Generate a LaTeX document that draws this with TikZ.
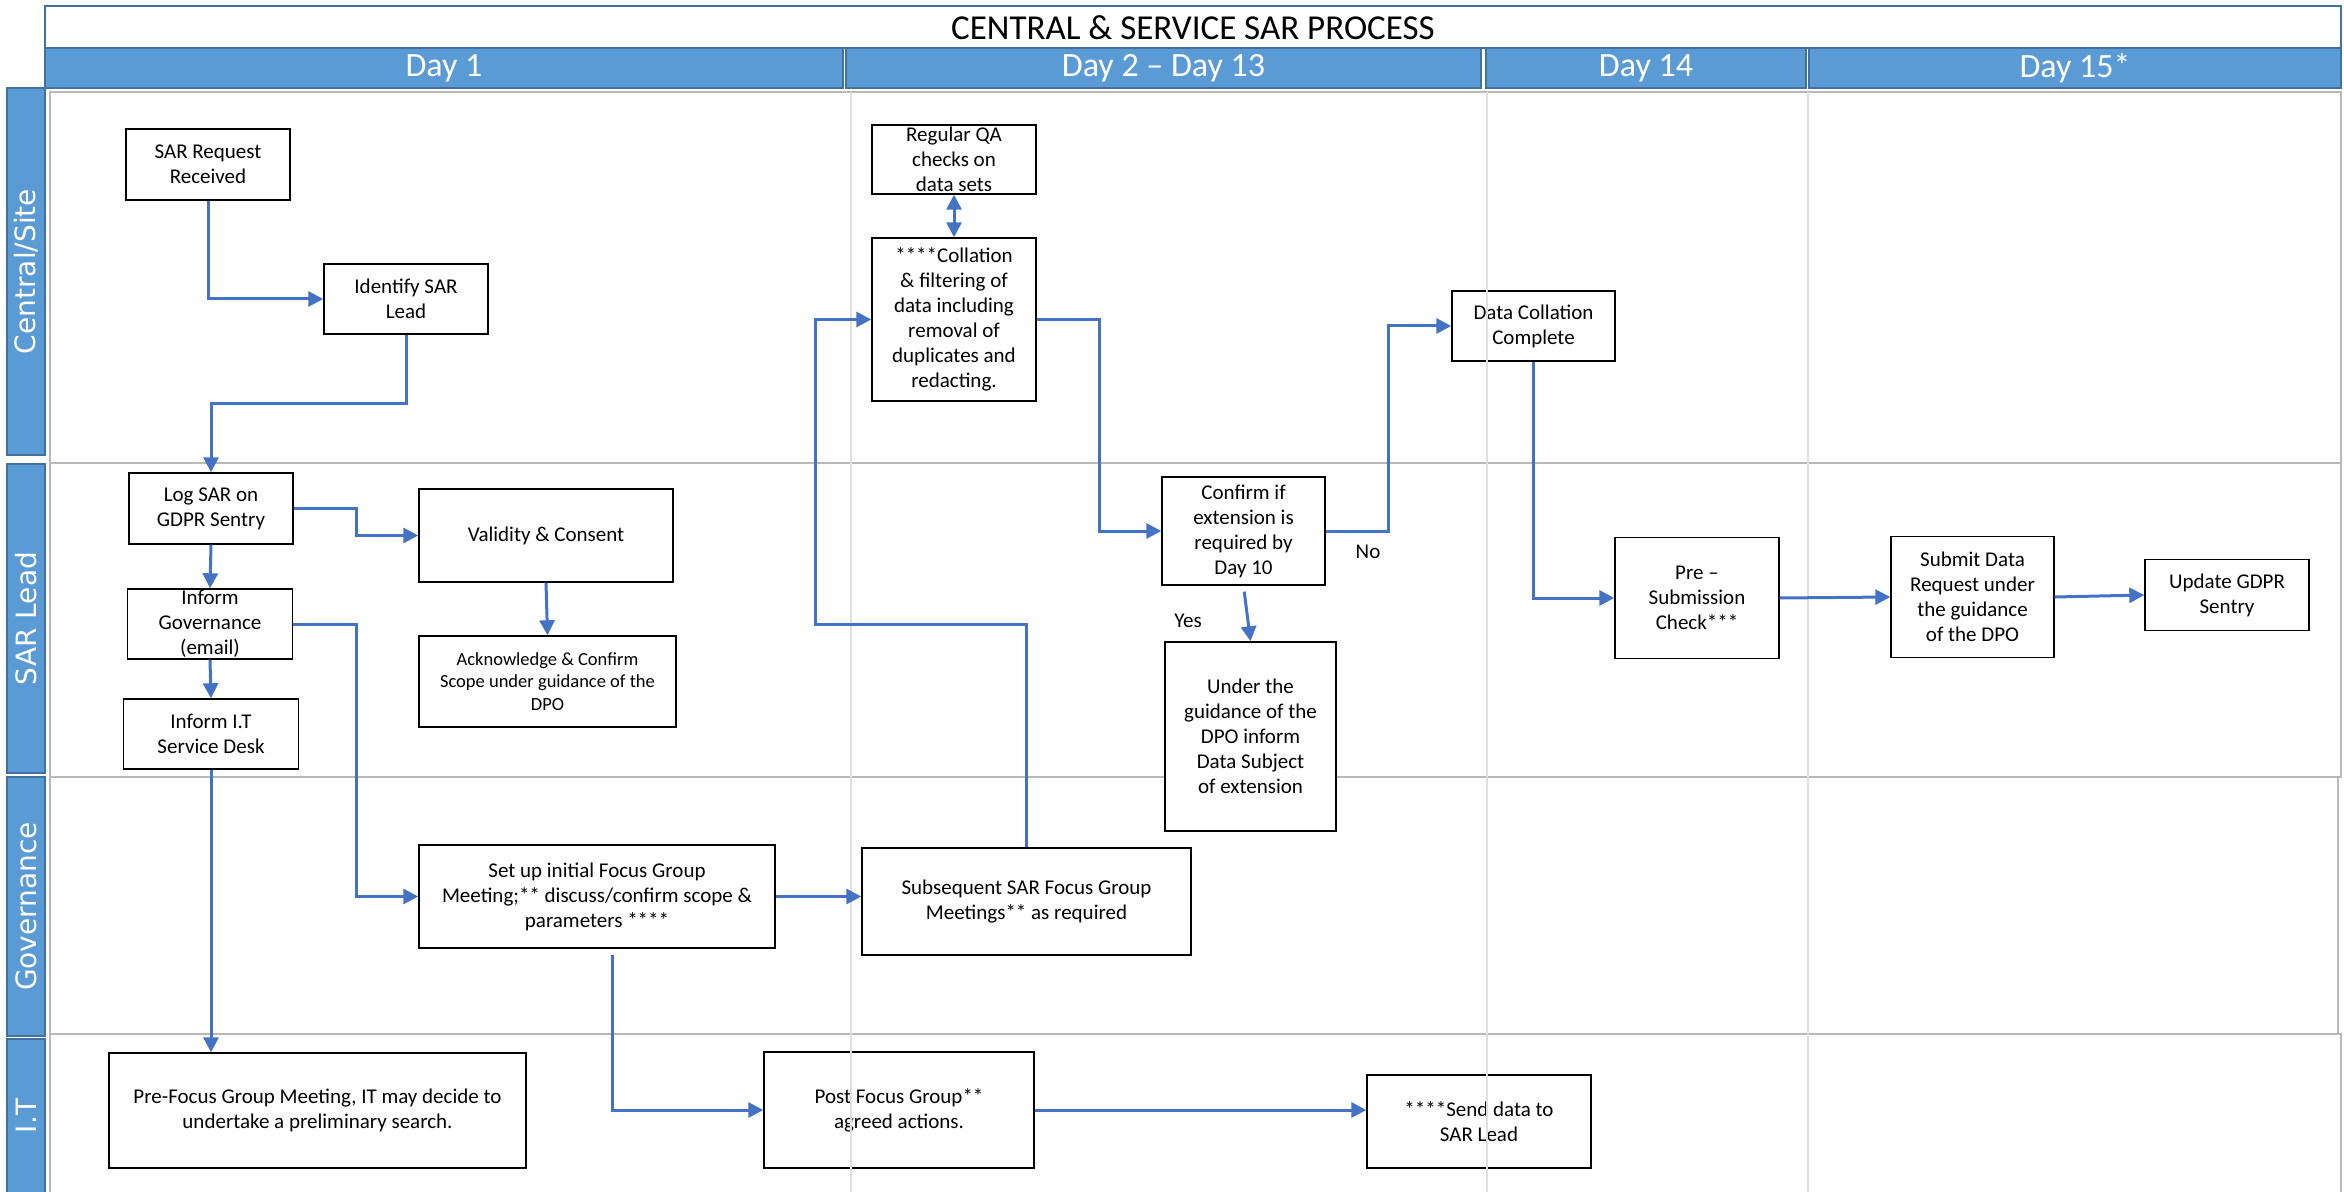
\documentclass[tikz,border=0pt]{standalone}
\usepackage{fontspec}
\setmainfont{Carlito}
\newfontfamily\lanefont{DejaVu Sans}
\usetikzlibrary{arrows.meta}
\definecolor{headblue}{RGB}{91,155,213}
\definecolor{headedge}{RGB}{65,113,156}
\definecolor{flowblue}{RGB}{68,114,196}

\begin{document}
\begin{tikzpicture}[x=0.5pt,y=-0.5pt,>={Triangle[length=7.5pt,width=7.5pt]},
  box/.style={draw=black,line width=0.7pt,fill=white,inner sep=0pt,align=center,
    font=\fontsize{10.5}{12.5}\selectfont},
  flow/.style={draw=flowblue,line width=1.5pt,->},
  dayhead/.style={fill=headblue,draw=headedge,line width=0.8pt,text=white,inner sep=0pt,
    minimum height=20pt,font=\fontsize{17}{20}\selectfont},
  lanebar/.style={fill=headblue,draw=headedge,line width=0.8pt},
  lanetext/.style={text=white,rotate=90,font=\lanefont\fontsize{14}{16}\selectfont},
  lanebox/.style={draw=gray!55,line width=1.2pt},
  colline/.style={draw=gray!25,line width=0.8pt}]
  \useasboundingbox (0,0) rectangle (2344,1192);

  % title and day columns
  \draw[headedge,line width=0.8pt] (45,6) rectangle (2341,48);
  \node[font=\fontsize{17.5}{21}\selectfont] (title) at (1193,28) {CENTRAL \& SERVICE SAR PROCESS};
  \node[dayhead,minimum width=399pt] (day1) at (444,68) {Day 1};
  \node[dayhead,minimum width=317.5pt] (day2) at (1163.5,68) {Day 2 – Day 13};
  \node[dayhead,minimum width=160pt] (day14) at (1646,68) {Day 14};
  \node[dayhead,minimum width=266pt] (day15) at (2075,68) {Day 15*};

  % swim lanes
  \draw[lanebox] (50,92) rectangle (2341,463);
  \draw[lanebox] (50,463) rectangle (2341,777);
  \draw[lanebox] (50,777) rectangle (2338,1034);
  \draw[lanebox] (50,1034) rectangle (2341,1210);
  \draw[lanebar] (7,88) rectangle (45,455);
  \draw[lanebar] (7,464) rectangle (45,773);
  \draw[lanebar] (7,777) rectangle (45,1036);
  \draw[lanebar] (7,1039) rectangle (45,1210);
  \node[lanetext] (lsite) at (26,271.5) {Central/Site};
  \node[lanetext] (llead) at (26,618.5) {SAR Lead};
  \node[lanetext] (lgov) at (26,906.5) {Governance};
  \node[lanetext] (lit) at (26,1116) {I.T};

  % steps
  \node[box,minimum width=82pt,minimum height=35.5pt] (req) at (208,164.5) {SAR Request\\Received};
  \node[box,minimum width=82pt,minimum height=35pt] (lead) at (406,299) {Identify SAR\\Lead};
  \node[box,minimum width=82pt,minimum height=34.5pt] (qa) at (954,159.5) {Regular QA\\checks on\\data sets};
  \node[box,minimum width=82pt,minimum height=81.5pt] (coll) at (954,319.5)
    {****Collation\\\& filtering of\\data including\\removal of\\duplicates and\\redacting.};
  \node[box,minimum width=81.5pt,minimum height=35pt] (done) at (1533.5,326) {Data Collation\\Complete};
  \node[box,minimum width=82pt,minimum height=35.5pt] (log) at (211,508.5) {Log SAR on\\GDPR Sentry};
  \node[box,minimum width=127pt,minimum height=46.5pt] (valid) at (546,535.5) {Validity \& Consent};
  \node[box,minimum width=82.5pt,minimum height=35pt] (gov) at (210,624) {Inform\\Governance\\(email)};
  \node[box,minimum width=128.5pt,minimum height=45.5pt,font=\fontsize{9.25}{11.3}\selectfont] (ack)
    at (547.5,681.5) {Acknowledge \& Confirm\\Scope under guidance of the\\DPO};
  \node[box,minimum width=87.5pt,minimum height=35pt] (itdesk) at (211,734) {Inform I.T\\Service Desk};
  \node[box,minimum width=81.5pt,minimum height=54pt] (confirm) at (1243.5,531)
    {Confirm if\\extension is\\required by\\Day 10};
  \node[box,minimum width=85.5pt,minimum height=94.5pt] (dsub) at (1250.5,736.5)
    {Under the\\guidance of the\\DPO inform\\Data Subject\\of extension};
  \node[box,minimum width=82pt,minimum height=60.5pt] (pre) at (1697,598) {Pre –\\Submission\\Check***};
  \node[box,minimum width=81.5pt,minimum height=60.5pt] (submit) at (1972.5,597)
    {Submit Data\\Request under\\the guidance\\of the DPO};
  \node[box,minimum width=82pt,minimum height=35.5pt] (update) at (2227,595) {Update GDPR\\Sentry};
  \node[box,minimum width=178pt,minimum height=51.5pt] (setup) at (597,896.5)
    {Set up initial Focus Group\\Meeting;** discuss/confirm scope \&\\parameters ****};
  \node[box,minimum width=164.5pt,minimum height=53.5pt] (subseq) at (1026.5,901.5)
    {Subsequent SAR Focus Group\\Meetings** as required};
  \node[box,minimum width=208.5pt,minimum height=57.5pt] (prefocus) at (317.5,1110.5)
    {Pre-Focus Group Meeting, IT may decide to\\undertake a preliminary search.};
  \node[box,minimum width=135pt,minimum height=58pt] (post) at (899,1110) {Post Focus Group**\\agreed actions.};
  \node[box,minimum width=112pt,minimum height=46.5pt] (send) at (1479,1121.5) {****Send data to\\SAR Lead};

  % day columns over the lanes
  \foreach \cx in {851,1487,1808}
    \draw[colline] (\cx,92) -- (\cx,1200);

  % flow
  \draw[flow] (req.south) |- (lead.west);
  \draw[flow] (lead.south) -- ++(0,69) -| (log.north);
  \draw[flow] (log.east) -- ++(63,0) |- (valid.west);
  \draw[flow] (log.south) -- (gov.north);
  \draw[flow] (gov.south) -- (itdesk.north);
  \draw[flow] (valid.south) -- (ack.north);
  \draw[flow] (gov.east) -- ++(63,0) |- (setup.west);
  \draw[flow] (itdesk.south) -- (itdesk.south |- prefocus.north);
  \draw[flow] (setup.east) -- (setup.east -| subseq.west);
  \draw[flow] ([xshift=7.5pt,yshift=-3pt]setup.south) |- (post.west);
  \draw[flow] (post.east) -- (post.east -| send.west);
  \draw[flow] (subseq.north) |- (815,624) |- (coll.west);
  \draw[flow,<->] (qa.south) -- (coll.north);
  \draw[flow] (coll.east) -- ++(63,0) |- (confirm.west);
  \draw[flow] (confirm.east) -- ++(63,0) |- (done.west);
  \draw[flow,shorten <=3pt] (confirm.south) -- (dsub.north);
  \draw[flow] (done.south) |- (pre.west);
  \draw[flow] (pre.east) -- (submit.west);
  \draw[flow] (submit.east) -- (update.west);
  \node[font=\fontsize{10.5}{12.5}\selectfont] (no) at (1368,552) {No};
  \node[font=\fontsize{10.5}{12.5}\selectfont] (yes) at (1188,621) {Yes};
\end{tikzpicture}
\end{document}
